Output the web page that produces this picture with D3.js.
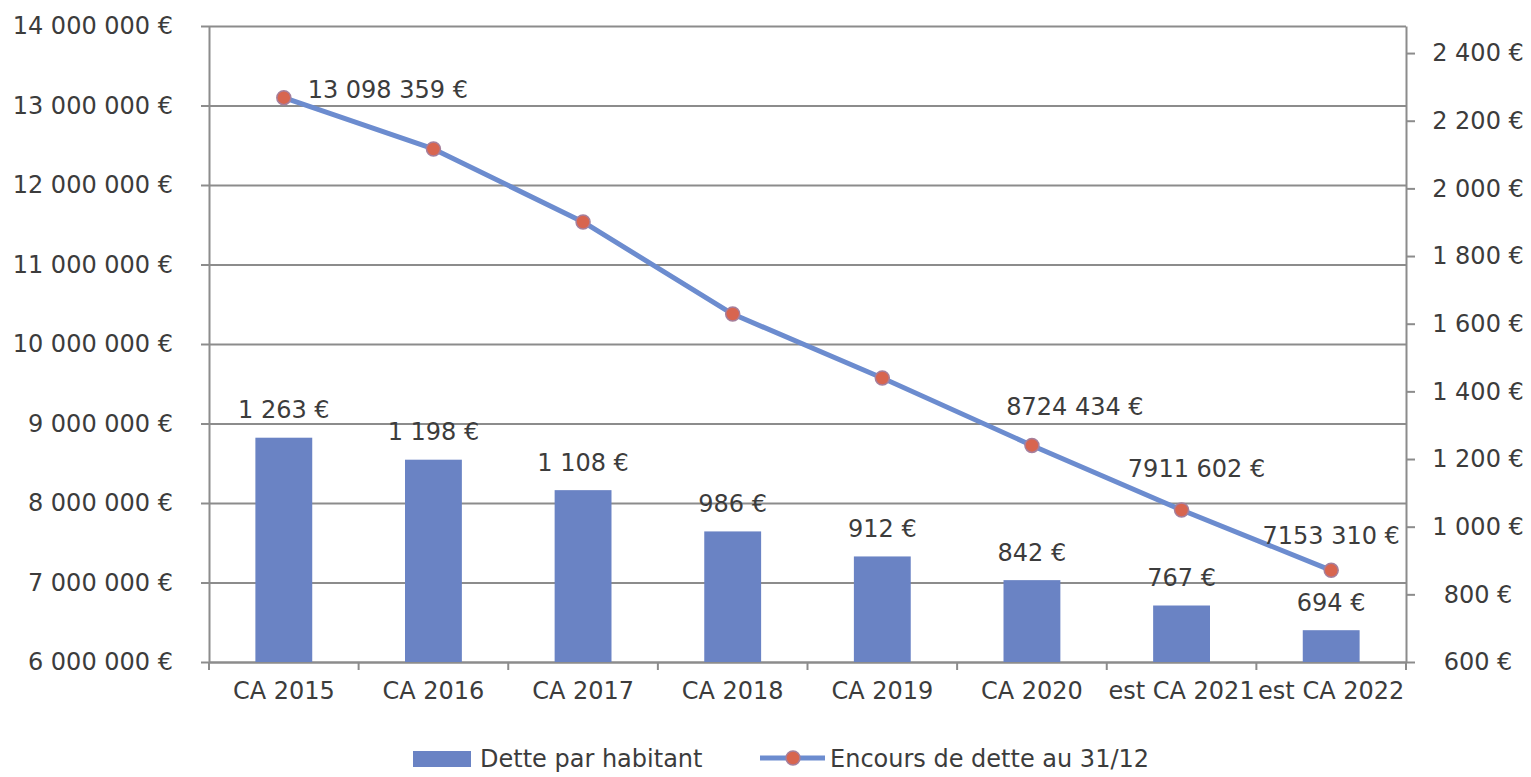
<!DOCTYPE html>
<html>
<head>
<meta charset="utf-8">
<script src="https://cdn.jsdelivr.net/npm/d3@7"></script>
<style>
    html, body { margin: 0; padding: 0; background: #fff; }
    svg text { font-family: "DejaVu Sans", sans-serif; fill: #3c3c3c; }
    .axis path, .axis line { stroke: #8c8c8c; stroke-width: 2; }
    .grid line { stroke: #8c8c8c; stroke-width: 2; }
    .grid path { display: none; }
</style>
</head>
<body>
<div id="chart"></div>
<script>

const categories = ['CA 2015', 'CA 2016', 'CA 2017', 'CA 2018', 'CA 2019', 'CA 2020', 'est CA 2021', 'est CA 2022'];
const debtPerHead = [1263, 1198, 1108, 986, 912, 842, 767, 694];
const outstandingDebt = [13098359, 12453000, 11535000, 10377000, 9572000, 8724434, 7911602, 7153310];
const outstandingLabels = ['13 098 359 €', '', '', '', '', '8724 434 €', '7911 602 €', '7153 310 €'];
const leftTicks = [6000000, 7000000, 8000000, 9000000, 10000000, 11000000, 12000000, 13000000, 14000000];
const rightTicks = [600, 800, 1000, 1200, 1400, 1600, 1800, 2000, 2200, 2400];
const seriesNames = ['Dette par habitant', 'Encours de dette au 31/12'];


class ComboChart {


    constructor() {

        this._width = 1531;
        this._height = 777;
        this._margin = {
            left: 209,
            top: 26,
            right: 125,
            bottom: 115
        };
        // hand placed line labels, as in the spreadsheet
        this._labelOffsets = [[104, -8], [0, 0], [0, 0], [0, 0], [0, 0], [43, -39], [15, -41], [0, -35]];

        const locale = d3.formatLocale({
            decimal: ',',
            thousands: ' ',
            grouping: [3],
            currency: ['', ' €']
        });
        this._euro = locale.format('$,');
    }


    renderTo(selector) {

        this._svg = d3.select(selector)
            .append('svg')
            .attr('width', this._width)
            .attr('height', this._height);

        const x = this._getXScale();
        const yLeft = this._getLeftScale();
        const yRight = this._getRightScale();
        const innerWidth = this._getInnerWidth();
        const innerHeight = this._getInnerHeight();

        const canvas = this._svg.append('g')
            .attr('transform', 'translate(' + [this._margin.left, this._margin.top] + ')');

        /*
         * Horizontal grid from the left axis.
         */
        canvas.append('g')
            .attr('class', 'grid')
            .call(d3.axisLeft(yLeft).tickValues(leftTicks).tickSize(-innerWidth).tickFormat(''));

        /*
         * Left axis.
         */
        const leftAxis = canvas.append('g')
            .attr('class', 'axis y-left')
            .call(d3.axisLeft(yLeft)
                .tickValues(leftTicks)
                .tickSize(8)
                .tickSizeOuter(0)
                .tickPadding(28)
                .tickFormat(this._euro));
        leftAxis.selectAll('text').style('font-size', '24px');

        /*
         * Right axis.
         */
        const rightAxis = canvas.append('g')
            .attr('class', 'axis y-right')
            .attr('transform', 'translate(' + innerWidth + ',0)')
            .call(d3.axisRight(yRight)
                .tickValues(rightTicks)
                .tickSize(9)
                .tickSizeOuter(0)
                .tickFormat(this._euro));
        rightAxis.selectAll('text')
            .attr('x', 72)
            .attr('text-anchor', 'middle')
            .style('font-size', '24px');

        /*
         * Bottom axis: labels centred on bands, ticks between categories.
         */
        const bottomAxis = canvas.append('g')
            .attr('class', 'axis x-axis')
            .attr('transform', 'translate(0,' + innerHeight + ')')
            .call(d3.axisBottom(x).tickSize(0).tickPadding(20));
        bottomAxis.selectAll('text').style('font-size', '24px');

        const half = (x.step() - x.bandwidth()) / 2;
        const bounds = categories.map(c => x(c) - half).concat([x(categories[categories.length - 1]) + x.bandwidth() + half]);
        bottomAxis.selectAll('.bound')
            .data(bounds)
            .join('line')
            .attr('class', 'bound')
            .attr('x1', d => d)
            .attr('x2', d => d)
            .attr('y1', 0)
            .attr('y2', 8);

        /*
         * Bars on the right scale.
         */
        canvas.append('g')
            .selectAll('rect')
            .data(debtPerHead)
            .join('rect')
            .attr('x', (d, i) => x(categories[i]))
            .attr('y', d => yRight(d))
            .attr('width', x.bandwidth())
            .attr('height', d => innerHeight - yRight(d))
            .attr('fill', '#6a83c4');

        canvas.append('g')
            .selectAll('text')
            .data(debtPerHead)
            .join('text')
            .attr('x', (d, i) => x(categories[i]) + x.bandwidth() / 2)
            .attr('y', d => yRight(d) - 28)
            .attr('dy', '0.35em')
            .attr('text-anchor', 'middle')
            .style('font-size', '24px')
            .text(d => this._euro(d));

        /*
         * Line on the left scale.
         */
        const line = d3.line()
            .x((d, i) => x(categories[i]) + x.bandwidth() / 2)
            .y(d => yLeft(d));

        canvas.append('path')
            .datum(outstandingDebt)
            .attr('d', line)
            .attr('fill', 'none')
            .attr('stroke', '#6c8ccf')
            .attr('stroke-width', 5)
            .attr('stroke-linejoin', 'round');

        canvas.append('g')
            .selectAll('circle')
            .data(outstandingDebt)
            .join('circle')
            .attr('cx', (d, i) => x(categories[i]) + x.bandwidth() / 2)
            .attr('cy', d => yLeft(d))
            .attr('r', 7)
            .attr('fill', '#d8654f')
            .attr('stroke', '#a67f9c')
            .attr('stroke-width', 1.5);

        canvas.append('g')
            .selectAll('text')
            .data(outstandingDebt)
            .join('text')
            .attr('x', (d, i) => x(categories[i]) + x.bandwidth() / 2 + this._labelOffsets[i][0])
            .attr('y', (d, i) => yLeft(d) + this._labelOffsets[i][1])
            .attr('dy', '0.35em')
            .attr('text-anchor', 'middle')
            .style('font-size', '24px')
            .text((d, i) => outstandingLabels[i]);

        this._renderLegend();

        return this;
    }


    _renderLegend() {

        const legend = this._svg.append('g')
            .attr('transform', 'translate(413,759)');

        legend.append('rect')
            .attr('x', 0)
            .attr('y', -8)
            .attr('width', 58)
            .attr('height', 16)
            .attr('fill', '#6a83c4');

        legend.append('text')
            .attr('x', 67)
            .attr('dy', '0.35em')
            .style('font-size', '24px')
            .text(seriesNames[0]);

        legend.append('line')
            .attr('x1', 347)
            .attr('x2', 412)
            .attr('y1', -1)
            .attr('y2', -1)
            .attr('stroke', '#6c8ccf')
            .attr('stroke-width', 5);

        legend.append('circle')
            .attr('cx', 380)
            .attr('cy', -1)
            .attr('r', 7)
            .attr('fill', '#d8654f')
            .attr('stroke', '#a67f9c')
            .attr('stroke-width', 1.5);

        legend.append('text')
            .attr('x', 417)
            .attr('dy', '0.35em')
            .style('font-size', '24px')
            .text(seriesNames[1]);
    }


    _getXScale() {

        return d3.scaleBand()
            .domain(categories)
            .range([0, this._getInnerWidth()])
            .paddingInner(0.62)
            .paddingOuter(0.31);
    }


    _getLeftScale() {

        return d3.scaleLinear()
            .domain([6000000, 14000000])
            .range([this._getInnerHeight(), 0]);
    }


    _getRightScale() {

        return d3.scaleLinear()
            .domain([600, 2480])
            .range([this._getInnerHeight(), 0]);
    }


    _getInnerWidth() {

        return this._width - this._margin.left - this._margin.right;
    }


    _getInnerHeight() {

        return this._height - this._margin.top - this._margin.bottom;
    }
}


new ComboChart().renderTo('#chart');

</script>
</body>
</html>
